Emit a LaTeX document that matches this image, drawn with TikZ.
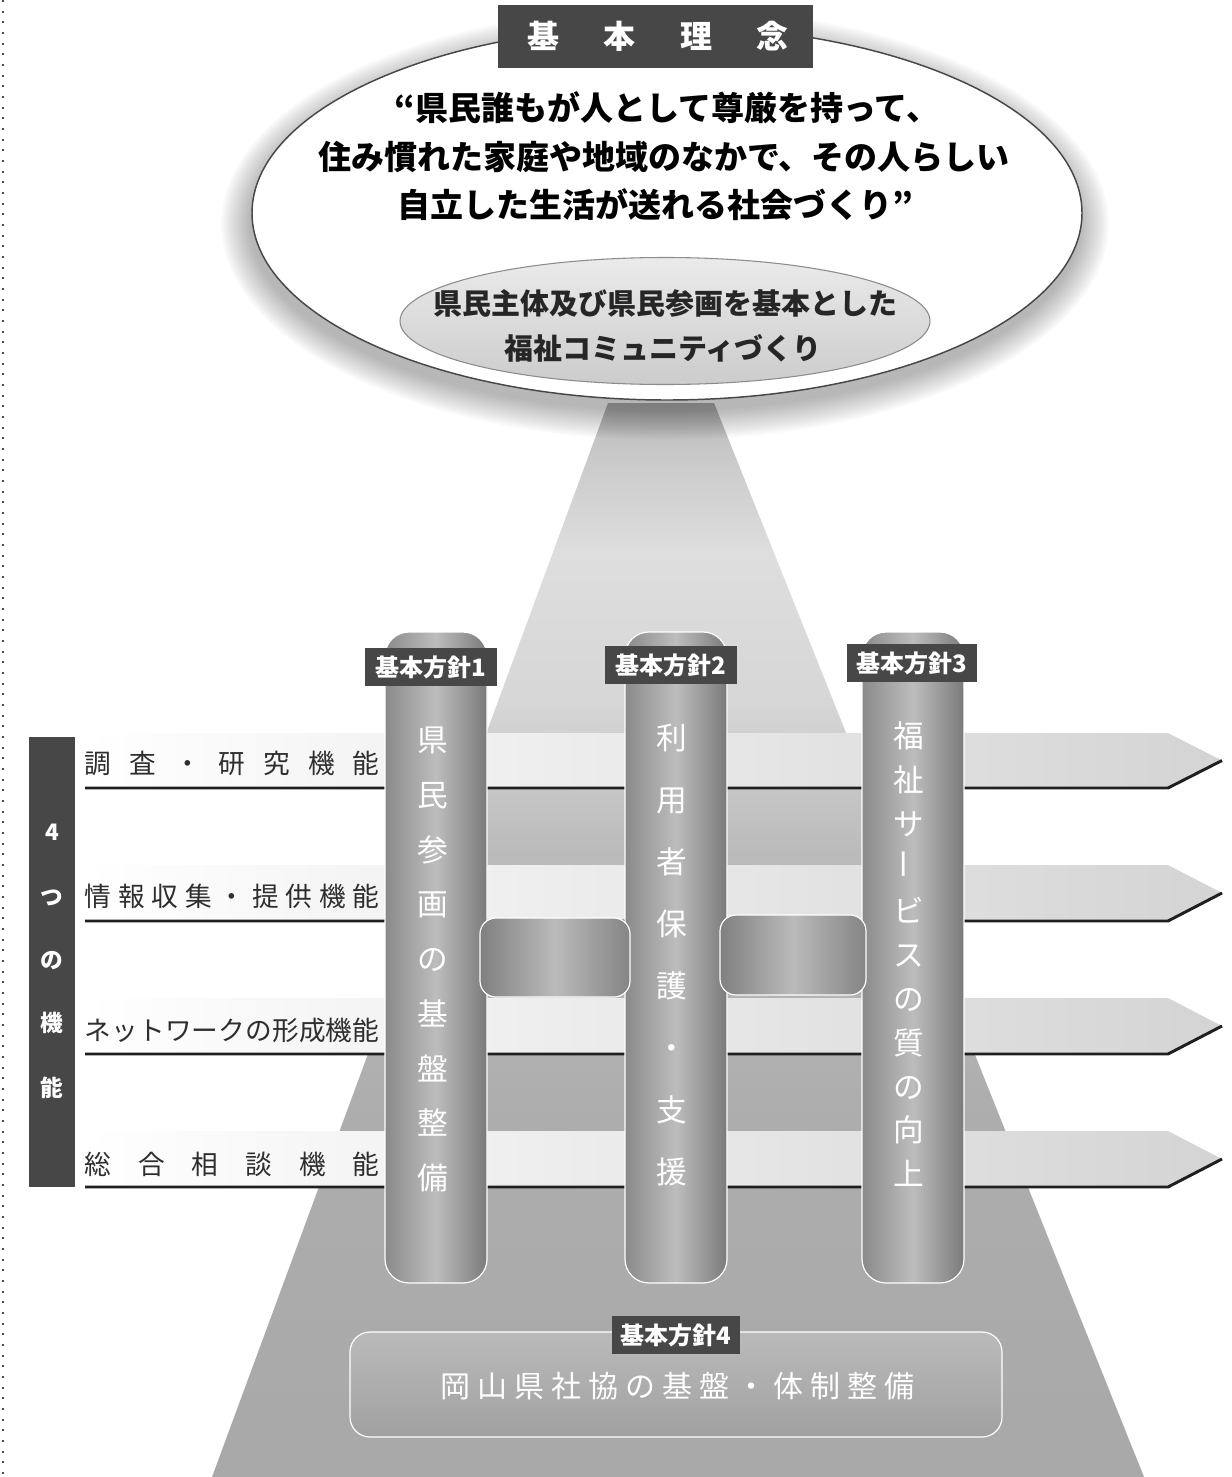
\documentclass[tikz,border=0pt]{standalone}
\usepackage{fontspec}
\usepackage{graphicx}
\setmainfont{Noto Sans CJK JP}
\usetikzlibrary{shapes.geometric}
\newcommand\myfs[1]{\fontsize{#1}{#1}\selectfont}
\pgfdeclareverticalshading{pyrshade}{100bp}{color(0bp)=(black!34); color(25bp)=(black!34); color(42bp)=(black!32); color(54bp)=(black!27); color(61bp)=(black!16); color(68bp)=(black!13); color(72bp)=(black!20); color(75bp)=(black!27); color(100bp)=(black!27)}
\begin{document}
\begin{tikzpicture}[x=0.75pt,y=-0.75pt,
  darkbox/.style={rectangle, fill=black!72, text=white, font=\bfseries\myfs{18pt}, inner sep=0pt},
  pillar/.style={rectangle, rounded corners=18pt, draw=white, line width=0.9pt, left color=black!46, right color=black!52, middle color=black!26, minimum width=76.5pt, minimum height=488.25pt, inner sep=0pt},
  link/.style={rectangle, rounded corners=12pt, draw=white, line width=0.9pt, left color=black!50, right color=black!48, middle color=black!27, inner sep=0pt},
  lbl/.style={text=black!82, font=\myfs{20pt}, text height=17.6pt, text depth=2.4pt, inner sep=0pt},
  ptx/.style={text=white, font=\myfs{23pt}, text height=20.2pt, text depth=2.8pt, inner sep=0pt},
  wtb/.style={text=white, font=\bfseries\myfs{17pt}, text height=15pt, text depth=2pt, inner sep=0pt},
  ttl/.style={text=white, font=\bfseries\myfs{24pt}, text height=21.1pt, text depth=2.9pt, inner sep=0pt},
  big/.style={text=black, font=\bfseries\myfs{24.75pt}, text height=21.8pt, text depth=3pt, inner sep=0pt},
  mid/.style={text=black!85, font=\bfseries\myfs{21.75pt}, text height=19.1pt, text depth=2.6pt, inner sep=0pt},
  btx/.style={text=white, font=\myfs{22.5pt}, text height=19.8pt, text depth=2.7pt, inner sep=0pt}]
\useasboundingbox (0,0) rectangle (1231,1477);
% left margin dots
\draw[black!70, line width=1.3pt, dash pattern=on 1.5pt off 6.5pt] (3,0) -- (3,1477);
% pyramid
\shade[shading=pyrshade] (608,403) -- (714,403) -- (1144,1477) -- (212,1477) -- cycle;
% halo of the large ellipse
\foreach \i in {1,...,14}
  \fill[black, opacity=0.022] (665,224) ellipse [x radius={(413+2.2*\i)*0.75pt}, y radius={(185+2.2*\i)*0.75pt}];
\node[ellipse, draw=black!72, line width=1.1pt, fill=white, minimum width=622.5pt, minimum height=280.5pt, inner sep=0pt] (ideal) at (667,213) {};
\node[ellipse, draw=black!45, line width=0.8pt, top color=black!8, bottom color=black!20, minimum width=397.5pt, minimum height=95.25pt, inner sep=0pt] (basis) at (665,321) {};
\node[big] (m1) at (667,108) {“県民誰もが人として尊厳を持って、};
\node[big] (m2) at (664,157) {住み慣れた家庭や地域のなかで、その人らしい};
\node[big] (m3) at (655,205) {自立した生活が送れる社会づくり”};
\node[mid] (s1) at (665,303) {県民主体及び県民参画を基本とした};
\node[mid] (s2) at (663,348) {福祉コミュニティづくり};
% title
\node[darkbox, minimum width=236.25pt, minimum height=47.25pt] (title) at (655.5,36.5) {};
\foreach \c [count=\i] in {基,本,理,念}
  \node[ttl] (title\i) at ({543+(\i-1)*76.5},36) {\c};
% function bands
\foreach \t/\b [count=\k] in {733/788,865/921,998/1054,1131/1187} {
  \shade[left color=white, right color=black!17] (85,\t) -- (1168,\t) -- (1222,{(\t+\b)/2}) -- (1168,\b) -- (85,\b) -- cycle;
  \draw[line width=2.2pt, black!88, line join=miter] (85,\b) -- (1168,\b) -- (1222,{(\t+\b)/2});
}
% left bar
\node[darkbox, minimum width=34.5pt, minimum height=337.5pt] (fbar) at (51.5,962) {};
\foreach \c/\y [count=\i] in {4/832,つ/897,の/960,機/1023,能/1088}
  \node[wtb] (fb\i) at (52,\y) {\c};
% function labels
\foreach \c [count=\i] in {調,査,・,研,究,機,能}
  \node[lbl] (ra\i) at ({98+(\i-1)*44.67},763) {\c};
\foreach \c [count=\i] in {情,報,収,集,・,提,供,機,能}
  \node[lbl] (rb\i) at ({98+(\i-1)*33.5},896) {\c};
\foreach \c [count=\i] in {ネ,ッ,ト,ワ,ー,ク,の,形,成,機,能}
  \node[lbl] (rc\i) at ({98+(\i-1)*26.8},1030) {\c};
\foreach \c [count=\i] in {総,合,相,談,機,能}
  \node[lbl] (rd\i) at ({98+(\i-1)*53.6},1164) {\c};
% pillars
\node[pillar] (p1) at (436,957.5) {};
\node[pillar] (p2) at (676,957.5) {};
\node[pillar] (p3) at (913,957.5) {};
\foreach \c [count=\i] in {県,民,参,画,の,基,盤,整,備}
  \node[ptx] (pa\i) at (433,{740+(\i-1)*54.75}) {\c};
\foreach \c [count=\i] in {利,用,者,保,護,・,支,援}
  \node[ptx] (pb\i) at (672,{738+(\i-1)*62}) {\c};
\foreach \c [count=\i] in {福,祉,サ,{\rotatebox{90}{ー}},ビ,ス,の,質,の,向,上}
  \node[ptx] (pc\i) at (909,{736+(\i-1)*43.8}) {\c};
% links between pillars
\node[link, minimum width=112.5pt, minimum height=59.25pt] (k1) at (555,957.5) {};
\node[link, minimum width=109.5pt, minimum height=60pt] (k2) at (793,955) {};
% pillar labels
\node[darkbox, minimum width=99pt, minimum height=28.5pt] (h1) at (431,667) {基本方針1};
\node[darkbox, minimum width=99pt, minimum height=28.5pt] (h2) at (671,665) {基本方針2};
\node[darkbox, minimum width=97.5pt, minimum height=28.5pt] (h3) at (912,663) {基本方針3};
% base
\node[rectangle, rounded corners=15pt, draw=white, line width=0.9pt, top color=black!27, bottom color=black!37, minimum width=489pt, minimum height=78.75pt, inner sep=0pt] (org) at (676,1384.5) {};
\node[darkbox, minimum width=96pt, minimum height=28.5pt] (h4) at (676,1335) {基本方針4};
\foreach \c [count=\i] in {岡,山,県,社,協,の,基,盤,・,体,制,整,備}
  \node[btx] (oa\i) at ({455+(\i-1)*37},1386) {\c};
\end{tikzpicture}
\end{document}
